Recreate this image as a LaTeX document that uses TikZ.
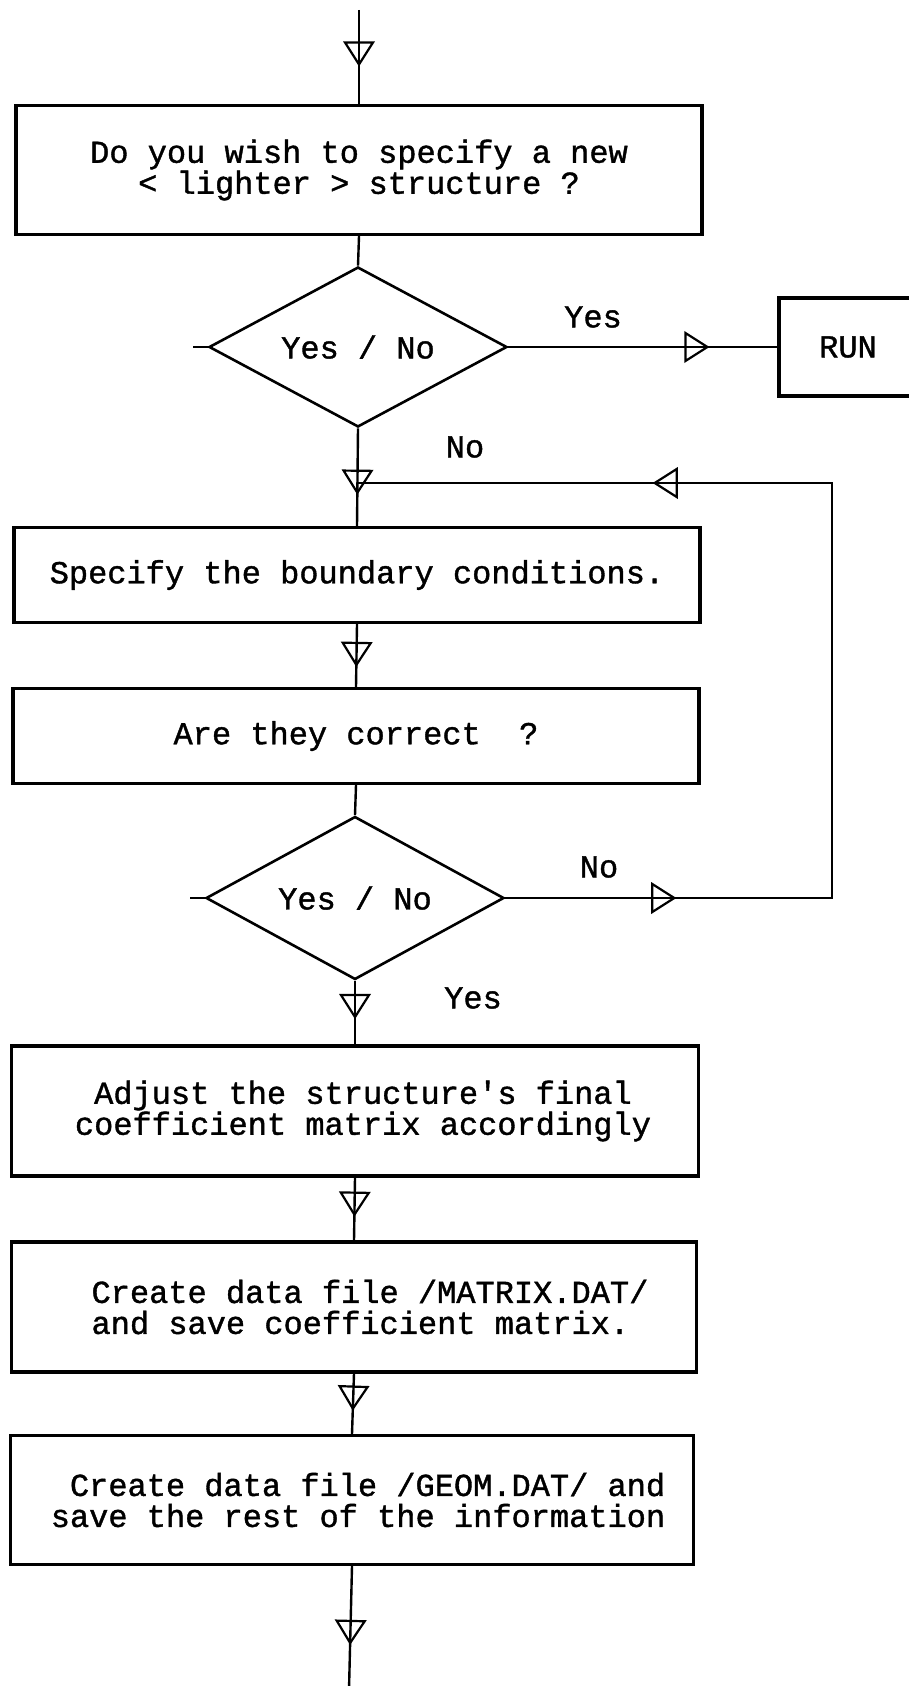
\documentclass[tikz,border=0pt]{standalone}
\usepackage{fontspec}
\setmainfont{Liberation Mono}[FakeBold=1.2]
\usetikzlibrary{shapes.geometric,decorations.markings}

\tikzset{
  every node/.style={font=\fontsize{16}{15.5}\selectfont},
  stepbox/.style={draw, line width=1.6pt, inner sep=0pt, align=center},
  decision/.style={diamond, aspect=2, draw, line width=1.3pt, inner sep=0pt},
  flow/.style={line width=1.2pt},
  % open triangular arrowhead placed along a connector, tip at the given position
  tri/.style={postaction={decorate, decoration={markings,
      mark=at position #1 with {\draw[line width=1.1pt, line join=miter]
        (0pt,0pt) -- (-11pt,7pt) -- (-11pt,-7pt) -- cycle;}}}},
}

\begin{document}
\begin{tikzpicture}[x=0.5pt,y=-0.5pt]
\useasboundingbox (0,0) rectangle (909,1686);
\clip (0,0) rectangle (909,1686);

% process boxes and decisions
\node[stepbox, minimum width=343pt, minimum height=64.5pt] (b1) at (359,170)
  {Do you wish to specify a new\\< lighter > structure ?};
\node[decision, minimum width=149pt, minimum height=80pt] (d1) at (358,347) {Yes / No};
\node[stepbox, minimum width=69pt, minimum height=49pt] (run) at (848,347) {RUN};
\node[stepbox, minimum width=343pt, minimum height=47.5pt] (b2) at (357,575)
  {Specify the boundary conditions.};
\node[stepbox, minimum width=343pt, minimum height=47.5pt] (b3) at (356,736)
  {Are they correct~~?};
\node[decision, minimum width=149pt, minimum height=81.5pt] (d2) at (355,898) {Yes / No};
\node[stepbox, minimum width=343.5pt, minimum height=65pt] (b4) at (355,1111)
  {\hspace*{8pt}Adjust the structure\textquotesingle s final\\\hspace*{8pt}coefficient matrix accordingly};
\node[stepbox, minimum width=342.5pt, minimum height=65pt, align=left] (b5) at (354,1307)
  {\hspace*{16pt}Create data file /MATRIX.DAT/\\\hspace*{16pt}and save coefficient matrix.};
\node[stepbox, minimum width=341.5pt, minimum height=64.5pt, align=right] (b6) at (352,1500)
  {\hspace*{6pt}Create data file /GEOM.DAT/ and\\\hspace*{6pt}save the rest of the information};

% branch labels
\node (lyes1) at (593,317) {Yes};
\node (lno1) at (465,447) {No};
\node (lno2) at (599,867) {No};
\node (lyes2) at (473,998) {Yes};

% free ends and corners
\coordinate (top) at (359,10);
\coordinate (bottom) at (349,1690);
\coordinate (loopTR) at (832,483);
\coordinate (loopBR) at (832,898);
\coordinate (merge) at (358,483);

% connectors
\draw[flow, tri=0.58] (top) -- (b1.north);
\draw[flow] (b1.south) -- (d1.north);
\draw[flow] (d1.west) -- ++(-15,0) coordinate (d1stub);
\draw[flow, tri=0.74] (d1.east) -- (run.west);
\draw[flow, tri=0.66] (d1.south) -- (b2.north);
\draw[flow, tri=84.5pt, tri=459.5pt] (d2.east) -- (loopBR) -- (loopTR) -- (merge);
\draw[flow, tri=0.65] (b2.south) -- (b3.north);
\draw[flow] (b3.south) -- (d2.north);
\draw[flow] (d2.west) -- ++(-15,0) coordinate (d2stub);
\draw[flow, tri=0.57] (d2.south) -- (b4.north);
\draw[flow, tri=0.59] (b4.south) -- (b5.north);
\draw[flow, tri=0.58] (b5.south) -- (b6.north);
\draw[flow, tri=0.62] (b6.south) -- (bottom);
\end{tikzpicture}
\end{document}
